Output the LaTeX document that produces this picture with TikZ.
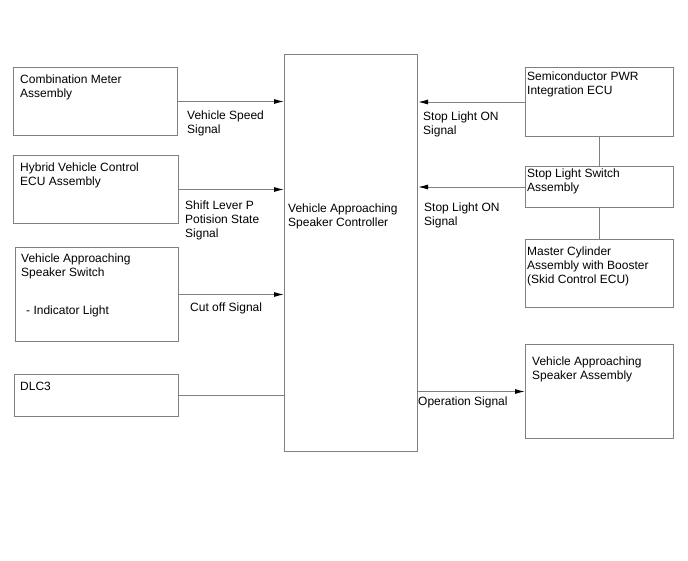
\documentclass[tikz,border=0pt]{standalone}
\usepackage{fontspec}
\setmainfont{Liberation Sans}
\usetikzlibrary{arrows.meta}
\definecolor{linegray}{HTML}{808080}
\begin{document}
\begin{tikzpicture}[x=1pt,y=-1pt,
  blk/.style={draw=linegray,line width=1pt,anchor=north west,inner sep=0pt,minimum width=#1},
  txt/.style={anchor=north west,inner sep=0pt,align=left,font=\fontsize{12}{14}\selectfont},
  conn/.style={draw=linegray,line width=1pt},
  sig/.style={conn,-{Latex[color=black,length=10pt,width=5pt]}}
]
\useasboundingbox (0,0) rectangle (688,560);
% boxes
\node[blk=164pt,minimum height=68pt] (cm) at (13,67) {};
\node[blk=165pt,minimum height=68pt] (hv) at (13,155) {};
\node[blk=163pt,minimum height=94pt] (vas) at (15,247) {};
\node[blk=164pt,minimum height=42pt] (dlc) at (14,374) {};
\node[blk=133pt,minimum height=397pt] (ctrl) at (284,54) {};
\node[blk=148pt,minimum height=69pt] (semi) at (525,67) {};
\node[blk=148pt,minimum height=41pt] (sls) at (525,166) {};
\node[blk=148pt,minimum height=68pt] (mc) at (525,239) {};
\node[blk=148pt,minimum height=94pt] (spk) at (525,344) {};
% box texts
\node[txt] (tcm) at (20,75) {Combination Meter\\Assembly};
\node[txt] (thv) at (20,163) {Hybrid Vehicle Control\\ECU Assembly};
\node[txt] (tvas) at (21,254) {Vehicle Approaching\\Speaker Switch};
\node[txt] (tind) at (26,306) {- Indicator Light};
\node[txt] (tdlc) at (20,382) {DLC3};
\node[txt] (tctrl) at (288,204) {Vehicle Approaching\\Speaker Controller};
\node[txt] (tsemi) at (527,72) {Semiconductor PWR\\Integration ECU};
\node[txt] (tsls) at (527,169) {Stop Light Switch\\Assembly};
\node[txt] (tmc) at (527,247) {Master Cylinder\\Assembly with Booster\\(Skid Control ECU)};
\node[txt] (tspk) at (532,357) {Vehicle Approaching\\Speaker Assembly};
% connectors
\draw[sig] (cm.east) -- (ctrl.west |- cm.east);
\draw[sig] (hv.east) -- (ctrl.west |- hv.east);
\draw[sig] (vas.east) -- (ctrl.west |- vas.east);
\draw[conn] (dlc.east) -- (ctrl.west |- dlc.east);
\draw[sig] (semi.west) -- (ctrl.east |- semi.west);
\draw[sig] (sls.west) -- (ctrl.east |- sls.west);
\draw[sig] (ctrl.east |- spk.west) -- (spk.west);
\draw[conn] (semi.south) -- (sls.north);
\draw[conn] (sls.south) -- (mc.north);
% signal labels
\node[txt] (lvs) at (187,111) {Vehicle Speed\\Signal};
\node[txt] (lsh) at (185,201) {Shift Lever P\\Potision State\\Signal};
\node[txt] (lco) at (190,303) {Cut off Signal};
\node[txt] (lsl1) at (423,112) {Stop Light ON\\Signal};
\node[txt] (lsl2) at (424,203) {Stop Light ON\\Signal};
\node[txt] (lop) at (418,397) {Operation Signal};
\end{tikzpicture}
\end{document}
